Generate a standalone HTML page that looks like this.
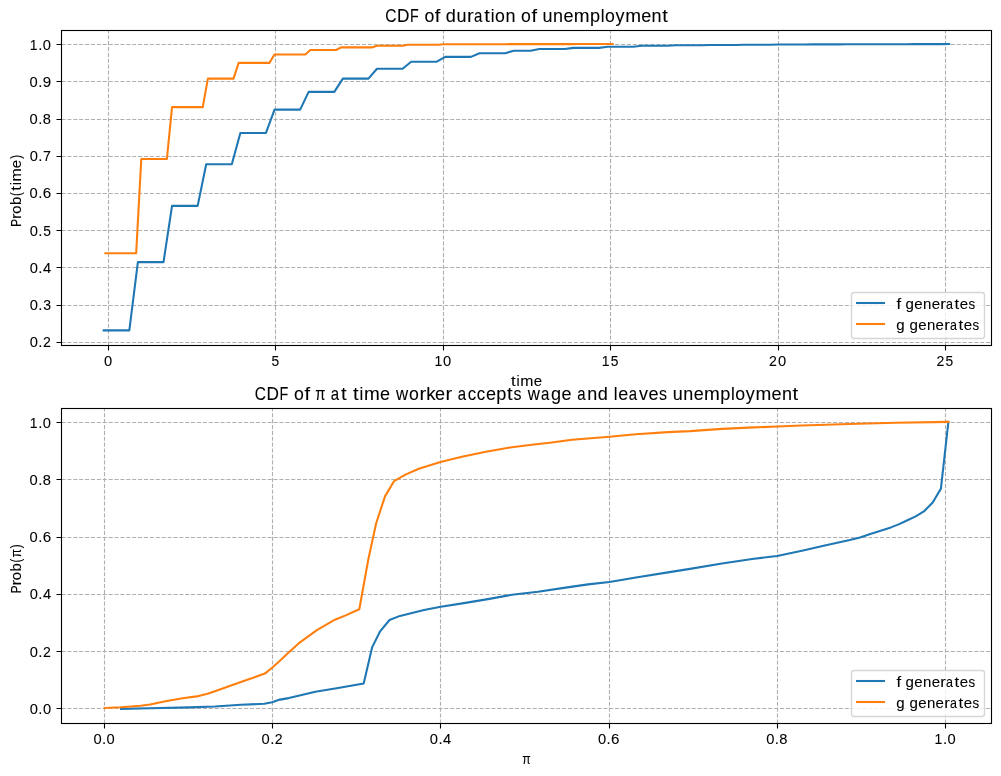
<!DOCTYPE html>
<html><head><meta charset="utf-8"><title>CDF plots</title><style>html,body{margin:0;padding:0;background:#fff;}svg{display:block;will-change:transform;}text{font-family:"Liberation Sans",sans-serif;}</style></head><body><svg width="1001" height="776" viewBox="0 0 1001 776">
<rect width="100%" height="100%" fill="#ffffff"/>
<defs><clipPath id="c0"><rect x="61.45" y="29.76" width="930" height="315"/></clipPath><clipPath id="c1"><rect x="61.45" y="407.76" width="930" height="315"/></clipPath></defs>
<path d="M108.5 345.5V30.5" stroke="#b0b0b0" stroke-width="1.11" stroke-dasharray="4.111 1.778" fill="none"/>
<path d="M275.5 345.5V30.5" stroke="#b0b0b0" stroke-width="1.11" stroke-dasharray="4.111 1.778" fill="none"/>
<path d="M443.5 345.5V30.5" stroke="#b0b0b0" stroke-width="1.11" stroke-dasharray="4.111 1.778" fill="none"/>
<path d="M610.5 345.5V30.5" stroke="#b0b0b0" stroke-width="1.11" stroke-dasharray="4.111 1.778" fill="none"/>
<path d="M778.5 345.5V30.5" stroke="#b0b0b0" stroke-width="1.11" stroke-dasharray="4.111 1.778" fill="none"/>
<path d="M945.5 345.5V30.5" stroke="#b0b0b0" stroke-width="1.11" stroke-dasharray="4.111 1.778" fill="none"/>
<path d="M61.5 342.5H991.5" stroke="#b0b0b0" stroke-width="1.11" stroke-dasharray="4.111 1.778" fill="none"/>
<path d="M61.5 305.5H991.5" stroke="#b0b0b0" stroke-width="1.11" stroke-dasharray="4.111 1.778" fill="none"/>
<path d="M61.5 267.5H991.5" stroke="#b0b0b0" stroke-width="1.11" stroke-dasharray="4.111 1.778" fill="none"/>
<path d="M61.5 230.5H991.5" stroke="#b0b0b0" stroke-width="1.11" stroke-dasharray="4.111 1.778" fill="none"/>
<path d="M61.5 193.5H991.5" stroke="#b0b0b0" stroke-width="1.11" stroke-dasharray="4.111 1.778" fill="none"/>
<path d="M61.5 156.5H991.5" stroke="#b0b0b0" stroke-width="1.11" stroke-dasharray="4.111 1.778" fill="none"/>
<path d="M61.5 119.5H991.5" stroke="#b0b0b0" stroke-width="1.11" stroke-dasharray="4.111 1.778" fill="none"/>
<path d="M61.5 81.5H991.5" stroke="#b0b0b0" stroke-width="1.11" stroke-dasharray="4.111 1.778" fill="none"/>
<path d="M61.5 44.5H991.5" stroke="#b0b0b0" stroke-width="1.11" stroke-dasharray="4.111 1.778" fill="none"/>
<path d="M108.5 345.5v5M275.5 345.5v5M443.5 345.5v5M610.5 345.5v5M778.5 345.5v5M945.5 345.5v5M61.5 342.5h-5M61.5 305.5h-5M61.5 267.5h-5M61.5 230.5h-5M61.5 193.5h-5M61.5 156.5h-5M61.5 119.5h-5M61.5 81.5h-5M61.5 44.5h-5" stroke="#000" stroke-width="1.11" fill="none"/>
<polyline points="103.72,330.35 112.26,330.35 120.80,330.35 129.34,330.35 137.88,262.10 146.42,262.10 154.96,262.10 163.50,262.10 172.04,205.86 180.58,205.86 189.12,205.86 197.66,205.86 206.20,164.30 214.74,164.30 223.28,164.30 231.82,164.30 240.36,132.95 248.90,132.95 257.44,132.95 265.98,132.95 274.52,109.60 283.06,109.60 291.60,109.60 300.14,109.60 308.68,91.90 317.22,91.90 325.76,91.90 334.30,91.90 342.84,78.60 351.38,78.60 359.92,78.60 368.46,78.60 377.00,68.80 385.54,68.80 394.08,68.80 402.62,68.80 411.16,61.70 419.70,61.70 428.24,61.70 436.78,61.70 445.32,56.90 453.86,56.90 462.40,56.90 470.94,56.90 479.48,53.30 488.02,53.30 496.56,53.30 505.10,53.30 513.64,50.70 522.18,50.70 530.72,50.70 539.26,49.00 547.80,49.00 556.34,49.00 564.88,49.00 573.42,47.90 581.96,47.90 590.50,47.90 599.04,47.90 607.58,46.70 616.12,46.70 624.66,46.70 633.20,46.70 641.74,45.70 650.28,45.70 658.82,45.70 667.36,45.70 675.90,45.20 684.44,45.20 692.98,45.20 701.52,45.20 710.06,45.00 718.60,45.00 727.14,45.00 735.68,45.00 744.22,44.80 752.76,44.80 761.30,44.80 769.84,44.80 778.38,44.50 786.92,44.50 795.46,44.50 804.00,44.50 812.54,44.40 821.08,44.40 829.62,44.40 838.16,44.40 846.70,44.30 855.24,44.30 863.78,44.30 872.32,44.30 880.86,44.20 889.40,44.20 897.94,44.20 906.48,44.20 915.02,44.10 923.56,44.10 932.10,44.10 940.64,44.10 949.18,44.00" fill="none" stroke="#1f77b4" stroke-width="2.08" stroke-linejoin="round" stroke-linecap="square" clip-path="url(#c0)"/>
<polyline points="105.41,253.30 110.54,253.30 115.66,253.30 120.79,253.30 125.91,253.30 131.03,253.30 136.16,253.30 141.28,159.00 146.41,159.00 151.53,159.00 156.65,159.00 161.78,159.00 166.90,159.00 172.03,107.10 177.15,107.10 182.27,107.10 187.40,107.10 192.52,107.10 197.65,107.10 202.77,107.10 207.89,78.60 213.02,78.60 218.14,78.60 223.26,78.60 228.39,78.60 233.51,78.60 238.64,62.90 243.76,62.90 248.88,62.90 254.01,62.90 259.13,62.90 264.26,62.90 269.38,62.90 274.50,54.45 279.63,54.45 284.75,54.45 289.88,54.45 295.00,54.45 300.12,54.45 305.25,54.45 310.37,50.00 315.50,50.00 320.62,50.00 325.74,50.00 330.87,50.00 335.99,50.00 341.12,47.40 346.24,47.40 351.36,47.40 356.49,47.40 361.61,47.40 366.74,47.40 371.86,47.40 376.98,45.70 382.11,45.70 387.23,45.70 392.36,45.70 397.48,45.70 402.60,45.70 407.73,44.70 412.85,44.70 417.98,44.70 423.10,44.70 428.22,44.70 433.35,44.70 438.47,44.70 443.60,44.30 448.72,44.30 453.84,44.30 458.97,44.30 464.09,44.30 469.22,44.30 474.34,44.30 479.46,44.20 484.59,44.20 489.71,44.20 494.84,44.20 499.96,44.20 505.08,44.20 510.21,44.10 515.33,44.10 520.45,44.10 525.58,44.10 530.70,44.10 535.83,44.10 540.95,44.10 546.07,44.10 551.20,44.10 556.32,44.10 561.45,44.10 566.57,44.10 571.69,44.10 576.82,44.05 581.94,44.05 587.07,44.05 592.19,44.05 597.31,44.05 602.44,44.05 607.56,44.05 612.69,44.00" fill="none" stroke="#ff7f0e" stroke-width="2.08" stroke-linejoin="round" stroke-linecap="square" clip-path="url(#c0)"/>
<rect x="61.5" y="30.5" width="930" height="315" fill="none" stroke="#000" stroke-width="1.11" stroke-linecap="square"/>
<path d="M104.5 723.5V408.5" stroke="#b0b0b0" stroke-width="1.11" stroke-dasharray="4.111 1.778" fill="none"/>
<path d="M272.5 723.5V408.5" stroke="#b0b0b0" stroke-width="1.11" stroke-dasharray="4.111 1.778" fill="none"/>
<path d="M440.5 723.5V408.5" stroke="#b0b0b0" stroke-width="1.11" stroke-dasharray="4.111 1.778" fill="none"/>
<path d="M609.5 723.5V408.5" stroke="#b0b0b0" stroke-width="1.11" stroke-dasharray="4.111 1.778" fill="none"/>
<path d="M777.5 723.5V408.5" stroke="#b0b0b0" stroke-width="1.11" stroke-dasharray="4.111 1.778" fill="none"/>
<path d="M945.5 723.5V408.5" stroke="#b0b0b0" stroke-width="1.11" stroke-dasharray="4.111 1.778" fill="none"/>
<path d="M61.5 708.5H991.5" stroke="#b0b0b0" stroke-width="1.11" stroke-dasharray="4.111 1.778" fill="none"/>
<path d="M61.5 651.5H991.5" stroke="#b0b0b0" stroke-width="1.11" stroke-dasharray="4.111 1.778" fill="none"/>
<path d="M61.5 594.5H991.5" stroke="#b0b0b0" stroke-width="1.11" stroke-dasharray="4.111 1.778" fill="none"/>
<path d="M61.5 537.5H991.5" stroke="#b0b0b0" stroke-width="1.11" stroke-dasharray="4.111 1.778" fill="none"/>
<path d="M61.5 479.5H991.5" stroke="#b0b0b0" stroke-width="1.11" stroke-dasharray="4.111 1.778" fill="none"/>
<path d="M61.5 422.5H991.5" stroke="#b0b0b0" stroke-width="1.11" stroke-dasharray="4.111 1.778" fill="none"/>
<path d="M104.5 723.5v5M272.5 723.5v5M440.5 723.5v5M609.5 723.5v5M777.5 723.5v5M945.5 723.5v5M61.5 708.5h-5M61.5 651.5h-5M61.5 594.5h-5M61.5 537.5h-5M61.5 479.5h-5M61.5 422.5h-5" stroke="#000" stroke-width="1.11" fill="none"/>
<polyline points="121.00,708.90 150.00,708.30 189.00,707.40 214.90,706.50 240.90,704.80 264.30,703.80 272.10,702.20 279.90,699.60 288.70,698.10 297.40,696.00 315.30,691.80 338.10,688.00 363.70,683.50 372.10,647.40 379.90,631.70 389.50,620.00 400.00,615.90 424.00,610.00 440.80,606.80 463.90,603.10 487.90,599.10 511.90,594.80 538.00,591.70 564.00,587.90 588.00,584.40 609.50,582.00 635.90,577.50 667.90,572.40 690.00,568.90 722.00,563.50 753.90,558.80 777.10,556.00 801.90,550.70 825.90,545.30 849.80,540.00 860.00,537.50 870.30,533.90 880.60,530.80 890.90,527.40 899.20,524.10 906.40,520.70 915.70,516.40 923.90,511.40 932.70,502.50 940.90,488.60 948.40,421.90" fill="none" stroke="#1f77b4" stroke-width="2.08" stroke-linejoin="round" stroke-linecap="square" clip-path="url(#c1)"/>
<polyline points="104.60,708.00 120.70,707.30 140.70,705.70 150.00,704.50 165.60,701.30 182.50,698.30 196.80,696.40 208.40,693.50 222.70,688.60 240.90,682.10 253.90,677.50 264.90,673.60 272.10,667.80 278.00,662.40 290.00,651.20 298.90,643.20 316.90,630.20 334.90,619.70 345.10,615.60 359.30,609.20 368.30,559.50 376.10,523.50 385.00,496.40 394.00,481.20 406.00,474.40 418.80,468.80 440.50,462.10 461.90,456.80 485.90,451.70 509.90,447.50 533.90,444.50 549.80,442.70 572.00,439.70 609.50,436.70 635.90,434.30 667.90,432.10 690.00,431.10 722.00,428.90 753.90,427.40 777.10,426.50 801.90,425.50 849.00,424.00 895.90,422.80 948.40,421.90" fill="none" stroke="#ff7f0e" stroke-width="2.08" stroke-linejoin="round" stroke-linecap="square" clip-path="url(#c1)"/>
<rect x="61.5" y="408.5" width="930" height="315" fill="none" stroke="#000" stroke-width="1.11" stroke-linecap="square"/>
<rect x="851.5" y="292.5" width="133" height="46" rx="2.78" ry="2.78" fill="#ffffff" fill-opacity="0.8" stroke="#cccccc" stroke-opacity="0.8" stroke-width="1.389"/>
<path d="M857 303H884" stroke="#1f77b4" stroke-width="2.08" stroke-linecap="square"/>
<g transform="translate(896.07,309)" fill="#000" stroke="#000" stroke-width="0.08"><text transform="translate(2.74,0) scale(1.150,1)" x="-2.13" y="0" font-size="14.55">f</text><text transform="translate(13.46,0) scale(1.037,1)" x="-3.88" y="0" font-size="14.55">g</text><text transform="translate(22.39,0) scale(1.031,1)" x="-4.03" y="0" font-size="14.55">e</text><text transform="translate(31.08,0) scale(1.029,1)" x="-4.06" y="0" font-size="14.55">n</text><text transform="translate(39.72,0) scale(1.031,1)" x="-4.03" y="0" font-size="14.55">e</text><text transform="translate(47.45,0) scale(1.150,1)" x="-2.78" y="0" font-size="14.55">r</text><text transform="translate(53.72,0) scale(0.858,1)" x="-4.36" y="0" font-size="14.55">a</text><text transform="translate(60.92,0) scale(1.150,1)" x="-2.08" y="0" font-size="14.55">t</text><text transform="translate(67.9,0) scale(1.031,1)" x="-4.03" y="0" font-size="14.55">e</text><text transform="translate(75.81,0) scale(0.915,1)" x="-3.58" y="0" font-size="14.55">s</text></g>
<path d="M857 324H884" stroke="#ff7f0e" stroke-width="2.08" stroke-linecap="square"/>
<g transform="translate(896.07,330)" fill="#000" stroke="#000" stroke-width="0.08"><text transform="translate(4.16,0) scale(1.037,1)" x="-3.88" y="0" font-size="14.55">g</text><text transform="translate(17.38,0) scale(1.037,1)" x="-3.88" y="0" font-size="14.55">g</text><text transform="translate(26.31,0) scale(1.031,1)" x="-4.03" y="0" font-size="14.55">e</text><text transform="translate(35,0) scale(1.029,1)" x="-4.06" y="0" font-size="14.55">n</text><text transform="translate(43.64,0) scale(1.031,1)" x="-4.03" y="0" font-size="14.55">e</text><text transform="translate(51.38,0) scale(1.150,1)" x="-2.78" y="0" font-size="14.55">r</text><text transform="translate(57.64,0) scale(0.858,1)" x="-4.36" y="0" font-size="14.55">a</text><text transform="translate(64.84,0) scale(1.150,1)" x="-2.08" y="0" font-size="14.55">t</text><text transform="translate(71.83,0) scale(1.031,1)" x="-4.03" y="0" font-size="14.55">e</text><text transform="translate(79.73,0) scale(0.915,1)" x="-3.58" y="0" font-size="14.55">s</text></g>
<rect x="851.5" y="670.5" width="133" height="46" rx="2.78" ry="2.78" fill="#ffffff" fill-opacity="0.8" stroke="#cccccc" stroke-opacity="0.8" stroke-width="1.389"/>
<path d="M857 681H884" stroke="#1f77b4" stroke-width="2.08" stroke-linecap="square"/>
<g transform="translate(896.07,687)" fill="#000" stroke="#000" stroke-width="0.08"><text transform="translate(2.74,0) scale(1.150,1)" x="-2.13" y="0" font-size="14.55">f</text><text transform="translate(13.46,0) scale(1.037,1)" x="-3.88" y="0" font-size="14.55">g</text><text transform="translate(22.39,0) scale(1.031,1)" x="-4.03" y="0" font-size="14.55">e</text><text transform="translate(31.08,0) scale(1.029,1)" x="-4.06" y="0" font-size="14.55">n</text><text transform="translate(39.72,0) scale(1.031,1)" x="-4.03" y="0" font-size="14.55">e</text><text transform="translate(47.45,0) scale(1.150,1)" x="-2.78" y="0" font-size="14.55">r</text><text transform="translate(53.72,0) scale(0.858,1)" x="-4.36" y="0" font-size="14.55">a</text><text transform="translate(60.92,0) scale(1.150,1)" x="-2.08" y="0" font-size="14.55">t</text><text transform="translate(67.9,0) scale(1.031,1)" x="-4.03" y="0" font-size="14.55">e</text><text transform="translate(75.81,0) scale(0.915,1)" x="-3.58" y="0" font-size="14.55">s</text></g>
<path d="M857 702H884" stroke="#ff7f0e" stroke-width="2.08" stroke-linecap="square"/>
<g transform="translate(896.07,708)" fill="#000" stroke="#000" stroke-width="0.08"><text transform="translate(4.16,0) scale(1.037,1)" x="-3.88" y="0" font-size="14.55">g</text><text transform="translate(17.38,0) scale(1.037,1)" x="-3.88" y="0" font-size="14.55">g</text><text transform="translate(26.31,0) scale(1.031,1)" x="-4.03" y="0" font-size="14.55">e</text><text transform="translate(35,0) scale(1.029,1)" x="-4.06" y="0" font-size="14.55">n</text><text transform="translate(43.64,0) scale(1.031,1)" x="-4.03" y="0" font-size="14.55">e</text><text transform="translate(51.38,0) scale(1.150,1)" x="-2.78" y="0" font-size="14.55">r</text><text transform="translate(57.64,0) scale(0.858,1)" x="-4.36" y="0" font-size="14.55">a</text><text transform="translate(64.84,0) scale(1.150,1)" x="-2.08" y="0" font-size="14.55">t</text><text transform="translate(71.83,0) scale(1.031,1)" x="-4.03" y="0" font-size="14.55">e</text><text transform="translate(79.73,0) scale(0.915,1)" x="-3.58" y="0" font-size="14.55">s</text></g>
<g fill="#000" stroke="#000" stroke-width="0.08"><g transform="translate(103.58,366)" ><text x="0.33" y="0" font-size="14.7">0</text></g><g transform="translate(270.97,366)" ><text transform="translate(4.35,0) scale(0.940,1)" x="-4.07" y="0" font-size="14.7">5</text></g><g transform="translate(433.94,366)" ><text transform="translate(4.54,0) scale(0.951,1)" x="-4.29" y="0" font-size="14.7">1</text><text x="9.15" y="0" font-size="14.7">0</text></g><g transform="translate(601.34,366)" ><text transform="translate(4.54,0) scale(0.951,1)" x="-4.29" y="0" font-size="14.7">1</text><text transform="translate(13.17,0) scale(0.940,1)" x="-4.07" y="0" font-size="14.7">5</text></g><g transform="translate(768.8,366)" ><text transform="translate(4.23,0) scale(0.960,1)" x="-4.09" y="0" font-size="14.7">2</text><text x="9.15" y="0" font-size="14.7">0</text></g><g transform="translate(936.2,366)" ><text transform="translate(4.23,0) scale(0.960,1)" x="-4.09" y="0" font-size="14.7">2</text><text transform="translate(13.17,0) scale(0.940,1)" x="-4.07" y="0" font-size="14.7">5</text></g><g transform="translate(29.35,347)" ><text x="0.33" y="0" font-size="14.7">0</text><text transform="translate(11.03,0) scale(1.022,1)" x="-2.04" y="0" font-size="14.7">.</text><text transform="translate(17.47,0) scale(0.960,1)" x="-4.09" y="0" font-size="14.7">2</text></g><g transform="translate(29.35,310)" ><text x="0.33" y="0" font-size="14.7">0</text><text transform="translate(11.03,0) scale(1.022,1)" x="-2.04" y="0" font-size="14.7">.</text><text transform="translate(17.63,0) scale(0.956,1)" x="-4.04" y="0" font-size="14.7">3</text></g><g transform="translate(29.35,273)" ><text x="0.33" y="0" font-size="14.7">0</text><text transform="translate(11.03,0) scale(1.022,1)" x="-2.04" y="0" font-size="14.7">.</text><text x="13.56" y="0" font-size="14.7">4</text></g><g transform="translate(29.35,236)" ><text x="0.33" y="0" font-size="14.7">0</text><text transform="translate(11.03,0) scale(1.022,1)" x="-2.04" y="0" font-size="14.7">.</text><text transform="translate(17.59,0) scale(0.940,1)" x="-4.07" y="0" font-size="14.7">5</text></g><g transform="translate(29.23,198)" ><text x="0.33" y="0" font-size="14.7">0</text><text transform="translate(11.03,0) scale(1.022,1)" x="-2.04" y="0" font-size="14.7">.</text><text transform="translate(17.7,0) scale(1.031,1)" x="-4.14" y="0" font-size="14.7">6</text></g><g transform="translate(29.35,161)" ><text x="0.33" y="0" font-size="14.7">0</text><text transform="translate(11.03,0) scale(1.022,1)" x="-2.04" y="0" font-size="14.7">.</text><text transform="translate(17.63,0) scale(0.974,1)" x="-4.09" y="0" font-size="14.7">7</text></g><g transform="translate(29.23,124)" ><text x="0.33" y="0" font-size="14.7">0</text><text transform="translate(11.03,0) scale(1.022,1)" x="-2.04" y="0" font-size="14.7">.</text><text x="13.57" y="0" font-size="14.7">8</text></g><g transform="translate(29.23,87)" ><text x="0.33" y="0" font-size="14.7">0</text><text transform="translate(11.03,0) scale(1.022,1)" x="-2.04" y="0" font-size="14.7">.</text><text transform="translate(17.61,0) scale(1.029,1)" x="-4.08" y="0" font-size="14.7">9</text></g><g transform="translate(29.23,50)" ><text transform="translate(4.54,0) scale(0.951,1)" x="-4.29" y="0" font-size="14.7">1</text><text transform="translate(11.03,0) scale(1.022,1)" x="-2.04" y="0" font-size="14.7">.</text><text x="13.57" y="0" font-size="14.7">0</text></g><g transform="translate(93.06,744)" ><text x="0.33" y="0" font-size="14.7">0</text><text transform="translate(11.03,0) scale(1.022,1)" x="-2.04" y="0" font-size="14.7">.</text><text x="13.57" y="0" font-size="14.7">0</text></g><g transform="translate(261.26,744)" ><text x="0.33" y="0" font-size="14.7">0</text><text transform="translate(11.03,0) scale(1.022,1)" x="-2.04" y="0" font-size="14.7">.</text><text transform="translate(17.47,0) scale(0.960,1)" x="-4.09" y="0" font-size="14.7">2</text></g><g transform="translate(429.46,744)" ><text x="0.33" y="0" font-size="14.7">0</text><text transform="translate(11.03,0) scale(1.022,1)" x="-2.04" y="0" font-size="14.7">.</text><text x="13.56" y="0" font-size="14.7">4</text></g><g transform="translate(597.6,744)" ><text x="0.33" y="0" font-size="14.7">0</text><text transform="translate(11.03,0) scale(1.022,1)" x="-2.04" y="0" font-size="14.7">.</text><text transform="translate(17.7,0) scale(1.031,1)" x="-4.14" y="0" font-size="14.7">6</text></g><g transform="translate(765.8,744)" ><text x="0.33" y="0" font-size="14.7">0</text><text transform="translate(11.03,0) scale(1.022,1)" x="-2.04" y="0" font-size="14.7">.</text><text x="13.57" y="0" font-size="14.7">8</text></g><g transform="translate(934,744)" ><text transform="translate(4.54,0) scale(0.951,1)" x="-4.29" y="0" font-size="14.7">1</text><text transform="translate(11.03,0) scale(1.022,1)" x="-2.04" y="0" font-size="14.7">.</text><text x="13.57" y="0" font-size="14.7">0</text></g><g transform="translate(29.35,714)" ><text x="0.33" y="0" font-size="14.7">0</text><text transform="translate(11.03,0) scale(1.022,1)" x="-2.04" y="0" font-size="14.7">.</text><text x="13.57" y="0" font-size="14.7">0</text></g><g transform="translate(29.35,657)" ><text x="0.33" y="0" font-size="14.7">0</text><text transform="translate(11.03,0) scale(1.022,1)" x="-2.04" y="0" font-size="14.7">.</text><text transform="translate(17.47,0) scale(0.960,1)" x="-4.09" y="0" font-size="14.7">2</text></g><g transform="translate(29.35,599)" ><text x="0.33" y="0" font-size="14.7">0</text><text transform="translate(11.03,0) scale(1.022,1)" x="-2.04" y="0" font-size="14.7">.</text><text x="13.56" y="0" font-size="14.7">4</text></g><g transform="translate(29.23,542)" ><text x="0.33" y="0" font-size="14.7">0</text><text transform="translate(11.03,0) scale(1.022,1)" x="-2.04" y="0" font-size="14.7">.</text><text transform="translate(17.7,0) scale(1.031,1)" x="-4.14" y="0" font-size="14.7">6</text></g><g transform="translate(29.23,485)" ><text x="0.33" y="0" font-size="14.7">0</text><text transform="translate(11.03,0) scale(1.022,1)" x="-2.04" y="0" font-size="14.7">.</text><text x="13.57" y="0" font-size="14.7">8</text></g><g transform="translate(29.23,428)" ><text transform="translate(4.54,0) scale(0.951,1)" x="-4.29" y="0" font-size="14.7">1</text><text transform="translate(11.03,0) scale(1.022,1)" x="-2.04" y="0" font-size="14.7">.</text><text x="13.57" y="0" font-size="14.7">0</text></g><g transform="translate(385.07,22)" ><text transform="translate(5.83,0) scale(0.884,1)" x="-6.43" y="0" font-size="17.5">C</text><text transform="translate(18.35,0) scale(0.985,1)" x="-6.62" y="0" font-size="17.5">D</text><text transform="translate(29.54,0) scale(0.816,1)" x="-5.71" y="0" font-size="17.5">F</text><text transform="translate(44.36,0) scale(1.012,1)" x="-4.87" y="0" font-size="17.5">o</text><text transform="translate(52.71,0) scale(1.150,1)" x="-2.57" y="0" font-size="17.5">f</text><text transform="translate(65.56,0) scale(1.035,1)" x="-4.67" y="0" font-size="17.5">d</text><text transform="translate(76.35,0) scale(1.027,1)" x="-4.85" y="0" font-size="17.5">u</text><text transform="translate(85.84,0) scale(1.150,1)" x="-3.35" y="0" font-size="17.5">r</text><text transform="translate(93.34,0) scale(0.856,1)" x="-5.24" y="0" font-size="17.5">a</text><text transform="translate(101.97,0) scale(1.150,1)" x="-2.5" y="0" font-size="17.5">t</text><text transform="translate(107.52,0) scale(0.974,1)" x="-1.94" y="0" font-size="17.5">i</text><text transform="translate(114.92,0) scale(1.012,1)" x="-4.87" y="0" font-size="17.5">o</text><text transform="translate(125.32,0) scale(1.027,1)" x="-4.88" y="0" font-size="17.5">n</text><text transform="translate(140.91,0) scale(1.012,1)" x="-4.87" y="0" font-size="17.5">o</text><text transform="translate(149.26,0) scale(1.150,1)" x="-2.57" y="0" font-size="17.5">f</text><text transform="translate(162.35,0) scale(1.027,1)" x="-4.85" y="0" font-size="17.5">u</text><text transform="translate(172.98,0) scale(1.027,1)" x="-4.88" y="0" font-size="17.5">n</text><text transform="translate(183.33,0) scale(1.029,1)" x="-4.85" y="0" font-size="17.5">e</text><text transform="translate(196.59,0) scale(1.085,1)" x="-7.29" y="0" font-size="17.5">m</text><text transform="translate(210.2,0) scale(1.036,1)" x="-5.06" y="0" font-size="17.5">p</text><text transform="translate(217.49,0) scale(0.974,1)" x="-1.95" y="0" font-size="17.5">l</text><text transform="translate(224.89,0) scale(1.012,1)" x="-4.87" y="0" font-size="17.5">o</text><text transform="translate(234.89,0) scale(1.023,1)" x="-4.38" y="0" font-size="17.5">y</text><text transform="translate(247.96,0) scale(1.085,1)" x="-7.29" y="0" font-size="17.5">m</text><text transform="translate(261.13,0) scale(1.029,1)" x="-4.85" y="0" font-size="17.5">e</text><text transform="translate(271.55,0) scale(1.027,1)" x="-4.88" y="0" font-size="17.5">n</text><text transform="translate(280.05,0) scale(1.150,1)" x="-2.5" y="0" font-size="17.5">t</text></g><g transform="translate(254.64,400)" ><text transform="translate(5.83,0) scale(0.884,1)" x="-6.43" y="0" font-size="17.5">C</text><text transform="translate(18.35,0) scale(0.985,1)" x="-6.62" y="0" font-size="17.5">D</text><text transform="translate(29.54,0) scale(0.816,1)" x="-5.71" y="0" font-size="17.5">F</text><text transform="translate(44.36,0) scale(1.012,1)" x="-4.87" y="0" font-size="17.5">o</text><text transform="translate(52.71,0) scale(1.150,1)" x="-2.57" y="0" font-size="17.5">f</text><text transform="translate(65.65,0) scale(0.844,1)" x="-5.99" y="0" font-size="17.5">π</text><text transform="translate(80.71,0) scale(0.856,1)" x="-5.24" y="0" font-size="17.5">a</text><text transform="translate(89.34,0) scale(1.150,1)" x="-2.5" y="0" font-size="17.5">t</text><text transform="translate(101.14,0) scale(1.150,1)" x="-2.5" y="0" font-size="17.5">t</text><text transform="translate(106.69,0) scale(0.974,1)" x="-1.94" y="0" font-size="17.5">i</text><text transform="translate(117.15,0) scale(1.085,1)" x="-7.29" y="0" font-size="17.5">m</text><text transform="translate(130.33,0) scale(1.029,1)" x="-4.85" y="0" font-size="17.5">e</text><text transform="translate(147.51,0) scale(0.963,1)" x="-6.33" y="0" font-size="17.5">w</text><text transform="translate(159.4,0) scale(1.012,1)" x="-4.87" y="0" font-size="17.5">o</text><text transform="translate(168.65,0) scale(1.150,1)" x="-3.35" y="0" font-size="17.5">r</text><text transform="translate(176.86,0) scale(1.065,1)" x="-4.98" y="0" font-size="17.5">k</text><text transform="translate(185.44,0) scale(1.029,1)" x="-4.85" y="0" font-size="17.5">e</text><text transform="translate(194.71,0) scale(1.150,1)" x="-3.35" y="0" font-size="17.5">r</text><text transform="translate(207.5,0) scale(0.856,1)" x="-5.24" y="0" font-size="17.5">a</text><text transform="translate(217.36,0) scale(0.956,1)" x="-4.52" y="0" font-size="17.5">c</text><text transform="translate(226.5,0) scale(0.956,1)" x="-4.52" y="0" font-size="17.5">c</text><text transform="translate(236.26,0) scale(1.029,1)" x="-4.85" y="0" font-size="17.5">e</text><text transform="translate(246.94,0) scale(1.036,1)" x="-5.06" y="0" font-size="17.5">p</text><text transform="translate(255.19,0) scale(1.150,1)" x="-2.5" y="0" font-size="17.5">t</text><text transform="translate(262.8,0) scale(0.913,1)" x="-4.3" y="0" font-size="17.5">s</text><text transform="translate(279.18,0) scale(0.963,1)" x="-6.33" y="0" font-size="17.5">w</text><text transform="translate(290.81,0) scale(0.856,1)" x="-5.24" y="0" font-size="17.5">a</text><text transform="translate(301.14,0) scale(1.035,1)" x="-4.67" y="0" font-size="17.5">g</text><text transform="translate(311.85,0) scale(1.029,1)" x="-4.85" y="0" font-size="17.5">e</text><text transform="translate(327.07,0) scale(0.856,1)" x="-5.24" y="0" font-size="17.5">a</text><text transform="translate(337.73,0) scale(1.027,1)" x="-4.88" y="0" font-size="17.5">n</text><text transform="translate(347.93,0) scale(1.035,1)" x="-4.67" y="0" font-size="17.5">d</text><text transform="translate(361.1,0) scale(0.974,1)" x="-1.95" y="0" font-size="17.5">l</text><text transform="translate(368.54,0) scale(1.029,1)" x="-4.85" y="0" font-size="17.5">e</text><text transform="translate(378.47,0) scale(0.856,1)" x="-5.24" y="0" font-size="17.5">a</text><text transform="translate(388.74,0) scale(1.028,1)" x="-4.38" y="0" font-size="17.5">v</text><text transform="translate(398.79,0) scale(1.029,1)" x="-4.85" y="0" font-size="17.5">e</text><text transform="translate(408.27,0) scale(0.913,1)" x="-4.3" y="0" font-size="17.5">s</text><text transform="translate(423.06,0) scale(1.027,1)" x="-4.85" y="0" font-size="17.5">u</text><text transform="translate(433.69,0) scale(1.027,1)" x="-4.88" y="0" font-size="17.5">n</text><text transform="translate(444.04,0) scale(1.029,1)" x="-4.85" y="0" font-size="17.5">e</text><text transform="translate(457.29,0) scale(1.085,1)" x="-7.29" y="0" font-size="17.5">m</text><text transform="translate(470.91,0) scale(1.036,1)" x="-5.06" y="0" font-size="17.5">p</text><text transform="translate(478.19,0) scale(0.974,1)" x="-1.95" y="0" font-size="17.5">l</text><text transform="translate(485.6,0) scale(1.012,1)" x="-4.87" y="0" font-size="17.5">o</text><text transform="translate(495.6,0) scale(1.023,1)" x="-4.38" y="0" font-size="17.5">y</text><text transform="translate(508.67,0) scale(1.085,1)" x="-7.29" y="0" font-size="17.5">m</text><text transform="translate(521.84,0) scale(1.029,1)" x="-4.85" y="0" font-size="17.5">e</text><text transform="translate(532.26,0) scale(1.027,1)" x="-4.88" y="0" font-size="17.5">n</text><text transform="translate(540.76,0) scale(1.150,1)" x="-2.5" y="0" font-size="17.5">t</text></g><g transform="translate(510.76,386)" ><text transform="translate(2.74,0) scale(1.150,1)" x="-2.08" y="0" font-size="14.55">t</text><text transform="translate(7.37,0) scale(0.976,1)" x="-1.61" y="0" font-size="14.55">i</text><text transform="translate(16.1,0) scale(1.088,1)" x="-6.06" y="0" font-size="14.55">m</text><text transform="translate(27.1,0) scale(1.031,1)" x="-4.03" y="0" font-size="14.55">e</text></g><g transform="translate(522.26,764)" ><text transform="translate(4.24,0) scale(0.846,1)" x="-4.98" y="0" font-size="14.55">π</text></g><g transform="translate(21.17,227.38) rotate(-90)" ><text transform="translate(4.63,0) scale(0.844,1)" x="-5.07" y="0" font-size="14.55">P</text><text transform="translate(11.6,0) scale(1.150,1)" x="-2.78" y="0" font-size="14.55">r</text><text transform="translate(17.82,0) scale(1.015,1)" x="-4.05" y="0" font-size="14.55">o</text><text transform="translate(26.72,0) scale(1.039,1)" x="-4.21" y="0" font-size="14.55">b</text><text transform="translate(33.62,0) scale(0.807,1)" x="-2.83" y="0" font-size="14.55">(</text><text transform="translate(39.02,0) scale(1.150,1)" x="-2.08" y="0" font-size="14.55">t</text><text transform="translate(43.65,0) scale(0.976,1)" x="-1.61" y="0" font-size="14.55">i</text><text transform="translate(52.38,0) scale(1.088,1)" x="-6.06" y="0" font-size="14.55">m</text><text transform="translate(63.38,0) scale(1.031,1)" x="-4.03" y="0" font-size="14.55">e</text><text transform="translate(70.3,0) scale(0.807,1)" x="-2.01" y="0" font-size="14.55">)</text></g><g transform="translate(21.17,593.88) rotate(-90)" ><text transform="translate(4.63,0) scale(0.844,1)" x="-5.07" y="0" font-size="14.55">P</text><text transform="translate(11.6,0) scale(1.150,1)" x="-2.78" y="0" font-size="14.55">r</text><text transform="translate(17.82,0) scale(1.015,1)" x="-4.05" y="0" font-size="14.55">o</text><text transform="translate(26.72,0) scale(1.039,1)" x="-4.21" y="0" font-size="14.55">b</text><text transform="translate(33.62,0) scale(0.807,1)" x="-2.83" y="0" font-size="14.55">(</text><text transform="translate(40.52,0) scale(0.846,1)" x="-4.98" y="0" font-size="14.55">π</text><text transform="translate(47.3,0) scale(0.807,1)" x="-2.01" y="0" font-size="14.55">)</text></g></g>
</svg></body></html>
